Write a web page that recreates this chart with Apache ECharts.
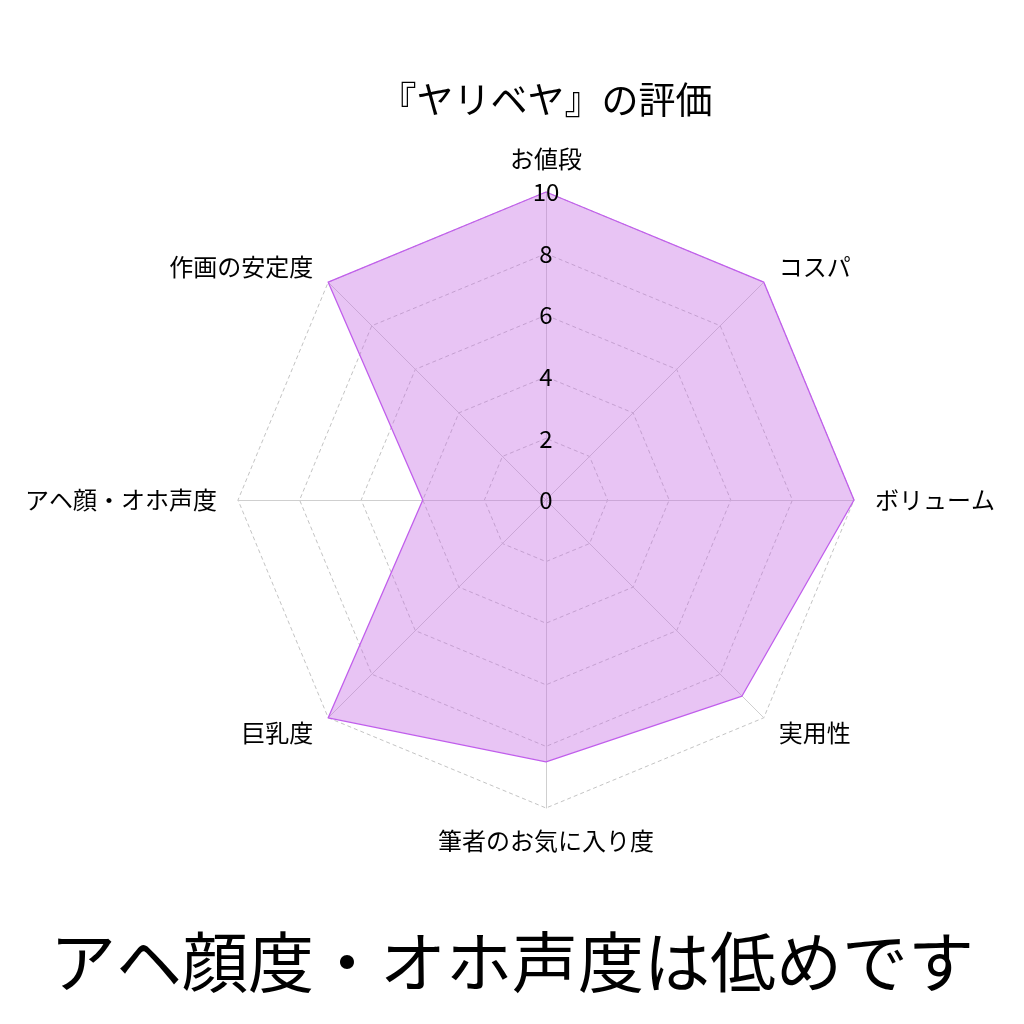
<!DOCTYPE html>
<html>
<head>
<meta charset="utf-8">
<script src="https://cdn.jsdelivr.net/npm/echarts@6/dist/echarts.min.js"></script>
<style>
html,body{margin:0;padding:0;background:#fff;}
#main{width:1024px;height:1024px;}
</style>
</head>
<body>
<div id="main"></div>
<script>
// 時計回り（上から）
var axisNames = ['お値段', 'コスパ', 'ボリューム', '実用性', '筆者のお気に入り度', '巨乳度', 'アヘ顔・オホ声度', '作画の安定度'];
var scores = [10, 10, 10, 9, 8.5, 10, 4, 10];
var maxScore = 10;
var titleText = '『ヤリベヤ』の評価';
var footText = 'アヘ顔度・オホ声度は低めです';

// echartsのradarは反時計回りなので並べ替え
function ccw(arr) {
    return [arr[0]].concat(arr.slice(1).reverse());
}

var font = '"Noto Sans CJK JP", "Noto Sans", sans-serif';
var names = ccw(axisNames);
var indicators = names.map(function (n) {
    return { name: n, max: maxScore, min: 0 };
});
// 目盛の数字だけ塗りの上に描くための indicator
var labelIndicators = names.map(function (n, i) {
    var ind = { name: '', max: maxScore, min: 0 };
    if (i == 0) {
        ind.axisLabel = {
            show: true, color: '#000', fontSize: 24, fontFamily: font,
            margin: 0, align: 'center', verticalAlign: 'middle'
        };
    }
    return ind;
});

var myChart = echarts.init(document.getElementById('main'));
var option = {
    backgroundColor: '#fff',
    animation: false,
    title: [{
        text: titleText,
        left: 541,
        textAlign: 'center',
        top: 76,
        textStyle: { fontSize: 37, fontWeight: 'normal', color: '#000', fontFamily: font }
    }, {
        text: footText,
        left: 'center',
        top: 924,
        textStyle: { fontSize: 66, fontWeight: 'normal', color: '#000', fontFamily: font }
    }],
    radar: [{
        center: [546, 500],
        radius: 308,
        startAngle: 90,
        splitNumber: 5,
        shape: 'polygon',
        nameGap: 21,
        axisName: { color: '#000', fontSize: 24, fontFamily: font },
        axisLine: { lineStyle: { color: '#cfcfcf', width: 1 } },
        splitLine: { lineStyle: { color: '#c4c4c4', type: [4, 3], width: 1 } },
        splitArea: { show: false },
        axisLabel: { show: false },
        indicator: indicators
    }, {
        z: 5,
        center: [546, 500],
        radius: 308,
        startAngle: 90,
        splitNumber: 5,
        shape: 'polygon',
        axisName: { show: false },
        axisLine: { show: false },
        splitLine: { show: false },
        splitArea: { show: false },
        axisLabel: { show: false },
        indicator: labelIndicators
    }],
    series: [{
        type: 'radar',
        radarIndex: 0,
        symbol: 'none',
        lineStyle: { color: 'rgb(192,92,238)', width: 1.3 },
        areaStyle: { color: 'rgb(198,108,228)', opacity: 0.4 },
        data: [{ value: ccw(scores) }]
    }]
};
myChart.setOption(option);
</script>
</body>
</html>
